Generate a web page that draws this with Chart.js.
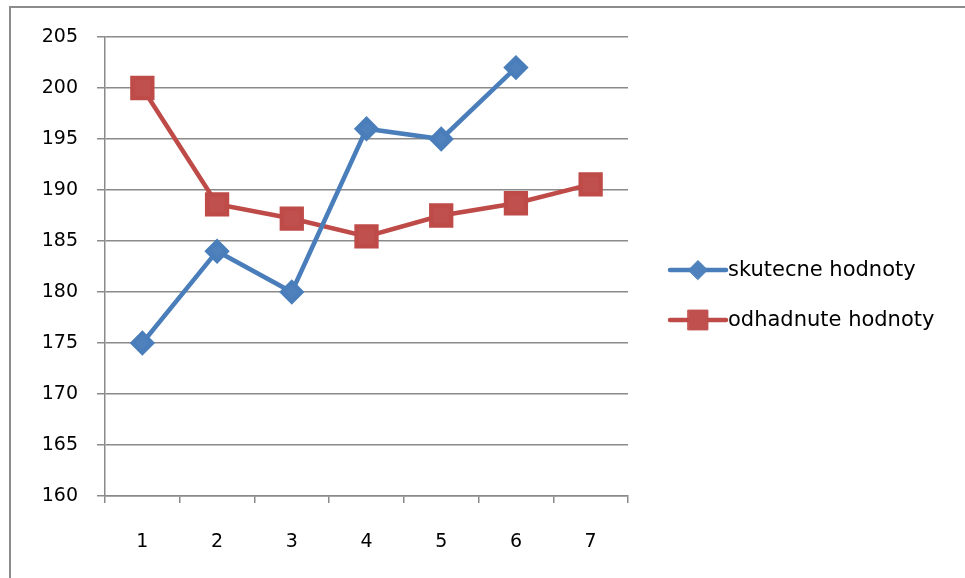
<!DOCTYPE html>
<html>
<head>
<meta charset="utf-8">
<script src="https://cdn.jsdelivr.net/npm/chart.js@4/dist/chart.umd.min.js"></script>
<style>
html, body { margin: 0; padding: 0; background: #fff; overflow: hidden; }
#frame { position: absolute; left: 9px; top: 6px; width: 970px; height: 590px;
         border-left: 2px solid #8c8c8c; border-top: 2px solid #8c8c8c; }
#wrap { position: absolute; left: 0; top: 0; width: 965px; height: 578px; }
</style>
</head>
<body>
<div id="frame"></div>
<div id="wrap"><canvas id="c" width="965" height="578"></canvas></div>
<script>
// data
var categories = ['1', '2', '3', '4', '5', '6', '7'];
var skutecne = [175, 184, 180, 196, 195, 202, null];
var odhadnute = [200, 188.6, 187.2, 185.45, 187.5, 188.7, 190.55];
var seriesNames = ['skutecne hodnoty', 'odhadnute hodnoty'];

var FONT = 'DejaVu Sans';
var GRID = '#8a8a8a';

// legend to the right of the plot, line + marker + label like Excel
var sideLegend = {
    id: 'sideLegend',
    afterDraw: function (chart) {
        var ctx = chart.ctx;
        var x0 = chart.chartArea.right + 42;
        var rows = [270, 320];
        chart.data.datasets.forEach(function (ds, i) {
            var y = rows[i];
            ctx.save();
            ctx.strokeStyle = ds.borderColor;
            ctx.lineWidth = ds.borderWidth;
            ctx.lineCap = 'round';
            ctx.beginPath();
            ctx.moveTo(x0, y);
            ctx.lineTo(x0 + 56, y);
            ctx.stroke();
            ctx.fillStyle = ds.pointBackgroundColor;
            ctx.strokeStyle = ds.pointBorderColor;
            ctx.lineWidth = 1;
            Chart.helpers.drawPoint(ctx, {
                pointStyle: ds.pointStyle, rotation: 0, borderWidth: 1, radius: ds.pointRadius
            }, x0 + 28, y);
            ctx.fillStyle = '#000';
            ctx.font = '21px "' + FONT + '"';
            ctx.textBaseline = 'middle';
            ctx.textAlign = 'left';
            ctx.fillText(ds.label, x0 + 58, y + 1);
            ctx.restore();
        });
    }
};

new Chart(document.getElementById('c'), {
    type: 'line',
    data: {
        labels: categories,
        datasets: [{
            label: seriesNames[0],
            data: skutecne,
            borderColor: '#4A7EBB',
            backgroundColor: '#4F81BD',
            pointBackgroundColor: '#4F81BD',
            pointBorderColor: '#4A7EBB',
            borderWidth: 4.5,
            pointStyle: 'rectRot',
            pointRadius: 9.5,
            tension: 0,
            spanGaps: false
        }, {
            label: seriesNames[1],
            data: odhadnute,
            borderColor: '#BE4B48',
            backgroundColor: '#C0504D',
            pointBackgroundColor: '#C0504D',
            pointBorderColor: '#BE4B48',
            borderWidth: 4.5,
            pointStyle: 'rect',
            pointRadius: 14,
            tension: 0
        }]
    },
    options: {
        responsive: false,
        animation: false,
        devicePixelRatio: 1,
        layout: { padding: { top: 37, right: 337, bottom: 0, left: 0 } },
        plugins: {
            legend: { display: false },
            tooltip: { enabled: false }
        },
        scales: {
            x: {
                type: 'category',
                offset: true,
                afterFit: function (s) { s.height = 82; },
                grid: { offset: true, drawOnChartArea: false, tickLength: 7, color: GRID, lineWidth: 1.5 },
                border: { color: GRID, width: 1.5 },
                ticks: { color: '#000', padding: 28, font: { family: FONT, size: 19 } }
            },
            y: {
                min: 160,
                max: 205,
                afterFit: function (s) { s.width = 105; },
                grid: { color: GRID, lineWidth: 1.5, tickLength: 8 },
                border: { color: GRID, width: 1.5 },
                ticks: { stepSize: 5, color: '#000', padding: 19, font: { family: FONT, size: 19 } }
            }
        }
    },
    plugins: [sideLegend]
});
</script>
</body>
</html>
